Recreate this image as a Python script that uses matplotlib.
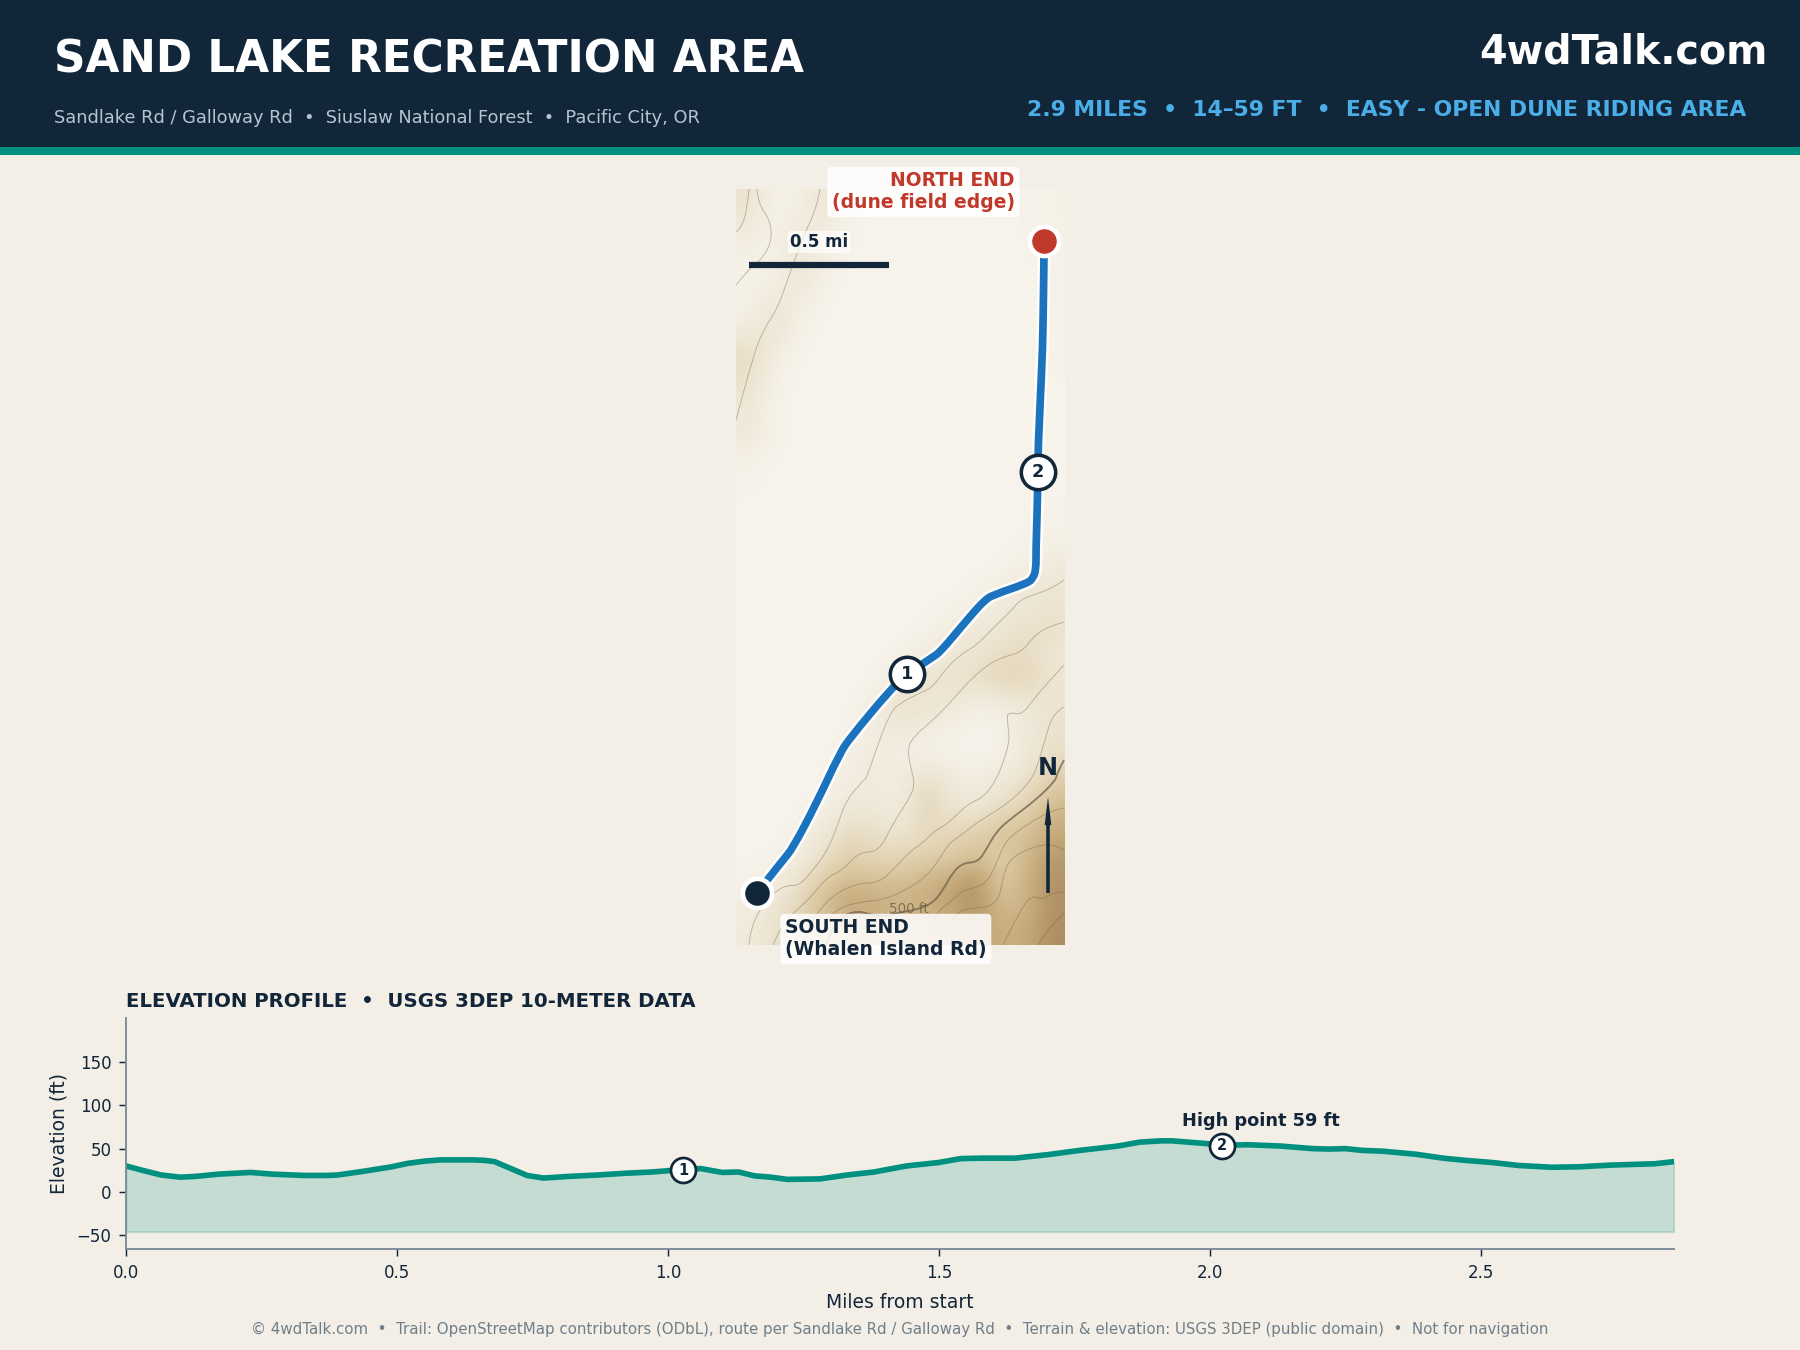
import numpy as np
import matplotlib
matplotlib.use("Agg")
import matplotlib.pyplot as plt
from matplotlib.colors import LinearSegmentedColormap
from matplotlib.patches import PathPatch, Rectangle
from matplotlib.path import Path

W, H = 1800, 1350
NAVY = "#12263a"
TEAL = "#00907f"
BG = "#f3eee6"
ROUTE_BLUE = "#1b72bd"
RED = "#c0392b"
SKY = "#4aaee8"

# Elevation profile
miles = [0.0, 0.03, 0.065, 0.1, 0.13, 0.17, 0.23, 0.27, 0.33, 0.37, 0.39, 0.44, 0.49, 0.52, 0.55,
         0.58, 0.64, 0.66, 0.68, 0.71, 0.74, 0.77, 0.82, 0.87, 0.92, 0.97, 1.03, 1.06, 1.10, 1.13,
         1.16, 1.19, 1.22, 1.28, 1.33, 1.38, 1.44, 1.50, 1.54, 1.58, 1.64, 1.70, 1.76, 1.83, 1.87,
         1.91, 1.93, 1.99, 2.03, 2.07, 2.13, 2.19, 2.22, 2.25, 2.28, 2.32, 2.38, 2.43, 2.47, 2.52,
         2.57, 2.63, 2.68, 2.74, 2.82, 2.856]
elev_ft = [30, 25, 19.5, 17, 18, 20.5, 22.5, 20.5, 19, 19, 19.5, 24, 29, 33, 35.5,
           37, 37, 36.5, 35, 27, 19, 16, 18, 19.5, 21.5, 23, 26, 27, 22.5, 23,
           18.5, 17, 14.5, 15, 19.5, 23, 30, 34, 38.5, 39, 39, 43, 48, 53, 57.5,
           59, 59, 56, 54, 54.5, 53, 50, 49.5, 50, 48, 47, 43.5, 39, 36.5, 34,
           30.5, 28.5, 29, 31, 32.5, 35]
wp_miles = [1.028, 2.022]
wp_elev = [25, 53.6]
wp_names = ["1", "2"]
elev_floor = -46
x_ticks = [0.0, 0.5, 1.0, 1.5, 2.0, 2.5]
y_ticks = [-50, 0, 50, 100, 150]

# Route on the map, in map pixels from the top left corner of the panel
route_x = [21, 47, 57, 81, 104, 114, 154, 171, 197, 204, 221, 237, 249, 257, 292, 297, 300, 300, 301, 302, 302, 306, 307, 308, 308]
route_y = [704, 671, 659, 613, 564, 549, 501, 485, 468, 463, 443, 424, 411, 406, 394, 389, 381, 361, 328, 283, 261, 174, 141, 68, 52]
map_wp_x = [171, 302]
map_wp_y = [485, 283]

# Terrain shading, 0 = pale sand, 1 = darkest slope (13 columns, 30 rows)
terrain = [
    [.26, .05, .05, .26, .05, .02, .02, .02, .02, .02, .03, .03, .06],
    [.16, .03, .16, .13, .03, .02, .02, .02, .02, .02, .03, .03, .06],
    [.08, .03, .20, .09, .03, .02, .02, .02, .02, .02, .02, .03, .05],
    [.05, .07, .24, .05, .02, .02, .01, .02, .01, .02, .01, .02, .05],
    [.05, .17, .11, .03, .01, .02, .01, .02, .01, .02, .01, .02, .05],
    [.10, .27, .05, .02, .01, .02, .01, .02, .01, .02, .01, .02, .04],
    [.32, .12, .03, .02, .01, .02, .01, .02, .01, .02, .01, .02, .04],
    [.30, .06, .02, .01, .01, .02, .01, .02, .01, .02, .01, .02, .03],
    [.18, .04, .02, .01, .01, .02, .01, .02, .01, .02, .01, .02, .03],
    [.20, .05, .02, .01, .01, .02, .01, .02, .01, .02, .01, .02, .03],
    [.09, .03, .01, .01, .01, .02, .01, .02, .01, .02, .01, .02, .03],
    [.04, .02, .01, .01, .01, .02, .01, .02, .01, .02, .01, .02, .03],
    [.03, .01, .01, .01, .01, .02, .01, .02, .01, .02, .02, .02, .03],
    [.02, .01, .01, .01, .01, .01, .01, .01, .01, .02, .02, .03, .05],
    [.02, .01, .01, .01, .01, .01, .01, .01, .01, .01, .02, .04, .10],
    [.01, .01, .01, .01, .01, .01, .01, .01, .02, .03, .06, .15, .20],
    [.01, .01, .01, .01, .01, .01, .01, .02, .03, .08, .16, .20, .24],
    [.01, .01, .01, .01, .01, .01, .02, .03, .12, .16, .20, .28, .26],
    [.01, .01, .01, .01, .01, .02, .04, .14, .18, .24, .30, .34, .20],
    [.01, .01, .01, .01, .01, .03, .14, .24, .26, .28, .40, .36, .22],
    [.01, .01, .01, .01, .02, .10, .30, .24, .18, .08, .10, .18, .24],
    [.01, .01, .01, .01, .04, .12, .16, .10, .05, .03, .05, .16, .26],
    [.01, .01, .01, .02, .08, .14, .08, .06, .05, .03, .05, .18, .30],
    [.01, .01, .01, .03, .12, .14, .10, .32, .16, .10, .18, .26, .46],
    [.01, .01, .02, .06, .18, .16, .10, .42, .20, .18, .30, .40, .62],
    [.01, .01, .05, .18, .34, .28, .22, .32, .36, .42, .56, .54, .74],
    [.02, .04, .12, .28, .44, .36, .36, .44, .46, .58, .44, .62, .85],
    [.05, .10, .26, .50, .62, .58, .60, .66, .76, .90, .46, .68, .92],
    [.10, .22, .38, .62, .78, .74, .66, .70, .78, .92, .60, .66, .92],
    [.14, .26, .34, .50, .58, .62, .58, .64, .68, .76, .70, .72, .95],
]

# Contours, map pixels
contour_a_x = [328, 317, 297, 284, 274, 257, 241, 227, 211, 197, 184, 164, 154, 141, 131, 128, 110, 100, 90, 77, 63, 50, 35, 22, 15, 13]
contour_a_y = [391, 399, 406, 411, 423, 439, 456, 464, 478, 498, 504, 514, 524, 558, 588, 591, 611, 641, 664, 681, 697, 696, 706, 723, 741, 756]
contour_b_x = [328, 311, 297, 286, 267, 251, 231, 214, 197, 177, 171, 177, 178, 177, 157, 143, 123, 107, 90, 77, 63, 47, 37]
contour_b_y = [433, 438, 448, 463, 468, 476, 494, 514, 531, 548, 561, 588, 591, 604, 634, 663, 663, 681, 689, 706, 719, 734, 756]
contour_c_x = [328, 314, 297, 286, 272, 271, 274, 267, 260, 248, 230, 213, 197, 187, 173, 160, 143, 123, 100, 83, 73, 68]
contour_c_y = [476, 491, 511, 526, 523, 531, 551, 574, 591, 608, 616, 634, 643, 654, 663, 678, 694, 694, 704, 721, 738, 756]
contour_d_x = [328, 317, 309, 301, 295, 283, 273, 257, 240, 223, 213, 203, 190, 170, 147, 123, 103, 90, 82]
contour_d_y = [518, 524, 551, 578, 591, 604, 613, 624, 634, 648, 654, 671, 688, 701, 711, 713, 719, 731, 756]
index_x = [328, 321, 320, 300, 273, 260, 250, 242, 227, 217, 207, 197, 180, 160, 147, 133, 122, 108, 97, 90]
index_y = [571, 584, 591, 611, 631, 643, 661, 673, 674, 683, 701, 714, 721, 724, 728, 725, 722, 726, 738, 756]
contour_f_x = [328, 317, 293, 270, 263, 253, 240, 227, 213, 200, 195, 187]
contour_f_y = [619, 621, 634, 651, 668, 691, 699, 701, 714, 724, 741, 756]
contour_g_x = [328, 317, 293, 273, 267, 263, 250, 230, 217, 200]
contour_g_y = [661, 654, 659, 671, 688, 711, 719, 719, 728, 756]
contour_h_x = [328, 317, 307, 295, 283, 267]
contour_h_y = [703, 703, 711, 706, 724, 756]
contour_i_x = [328, 317, 302]
contour_i_y = [724, 734, 756]
contour_nw1_x = [0, 7, 12, 13]
contour_nw1_y = [43, 38, 11, 0]
contour_nw2_x = [21, 22, 34, 36, 27, 14, 0]
contour_nw2_y = [0, 14, 31, 51, 69, 79, 96]
contour_nw3_x = [84, 81, 67, 54, 41, 27, 17, 0]
contour_nw3_y = [0, 18, 48, 84, 121, 141, 168, 231]


def smooth_path(xs, ys):
    # quadratic curves through the midpoints so the lines do not look faceted
    pts = np.column_stack([xs, ys]).astype(float)
    verts = [pts[0]]
    codes = [Path.MOVETO]
    for i in range(1, len(pts) - 1):
        verts += [pts[i], (pts[i] + pts[i + 1]) / 2]
        codes += [Path.CURVE3, Path.CURVE3]
    verts.append(pts[-1])
    codes.append(Path.LINETO)
    return Path(verts, codes)


fig = plt.figure(figsize=(W / 150, H / 150), dpi=150, facecolor=BG)

# Header band
fig.add_artist(Rectangle((0, 1 - 147 / H), 1, 147 / H, transform=fig.transFigure, color=NAVY, lw=0))
fig.add_artist(Rectangle((0, 1 - 155 / H), 1, 8 / H, transform=fig.transFigure, color=TEAL, lw=0))
fig.text(54 / W, 1 - 72.5 / H, "SAND LAKE RECREATION AREA", color="white", fontsize=21, fontweight="bold", va="baseline")
fig.text(54 / W, 1 - 123 / H, "Sandlake Rd / Galloway Rd  •  Siuslaw National Forest  •  Pacific City, OR",
         color="#b6c4cf", fontsize=8.55, va="baseline")
fig.text(1768 / W, 1 - 63 / H, "4wdTalk.com", color="white", fontsize=19, fontweight="bold", ha="right", va="baseline")
fig.text(1746 / W, 1 - 116 / H, "2.9 MILES  •  14–59 FT  •  EASY - OPEN DUNE RIDING AREA",
         color=SKY, fontsize=10.5, fontweight="bold", ha="right", va="baseline")

# Map panel
ax_map = fig.add_axes([736 / W, 1 - 945 / H, 329 / W, 756 / H])
sand = LinearSegmentedColormap.from_list("sand", ["#f8f5ee", "#ece3cf", "#dcc9a2", "#c4a878", "#a5865a"])
ax_map.imshow(terrain, cmap=sand, vmin=0, vmax=1, extent=(0, 329, 756, 0), interpolation="bicubic", aspect="auto")
thin_lines = [(contour_a_x, contour_a_y), (contour_b_x, contour_b_y), (contour_c_x, contour_c_y),
              (contour_d_x, contour_d_y), (contour_f_x, contour_f_y), (contour_g_x, contour_g_y),
              (contour_h_x, contour_h_y), (contour_i_x, contour_i_y), (contour_nw1_x, contour_nw1_y),
              (contour_nw2_x, contour_nw2_y), (contour_nw3_x, contour_nw3_y)]
for cx, cy in thin_lines:
    ax_map.add_patch(PathPatch(smooth_path(cx, cy), fc="none", ec="#6f6048", lw=0.45, alpha=0.4))
ax_map.add_patch(PathPatch(smooth_path(index_x, index_y), fc="none", ec="#6f6048", lw=0.9, alpha=0.75))
ax_map.text(173, 720, "500 ft", color="#6f6048", fontsize=6.5, alpha=0.8, ha="center", va="center")

route_path = smooth_path(route_x, route_y)
ax_map.add_patch(PathPatch(route_path, fc="none", ec="white", lw=6.2, alpha=0.9, capstyle="round", joinstyle="round"))
ax_map.add_patch(PathPatch(route_path, fc="none", ec=ROUTE_BLUE, lw=3.7, capstyle="round", joinstyle="round"))

ax_map.plot(route_x[0], route_y[0], "o", ms=14, mfc=NAVY, mec="white", mew=2.2, zorder=6)
ax_map.plot(route_x[-1], route_y[-1], "o", ms=14, mfc=RED, mec="white", mew=2.2, zorder=6)
ax_map.plot(map_wp_x, map_wp_y, "o", ms=16.5, mfc="white", mec=NAVY, mew=1.7, zorder=6)
for mx, my, name in zip(map_wp_x, map_wp_y, wp_names):
    ax_map.text(mx, my, name, color=NAVY, fontsize=8.5, fontweight="bold", ha="center", va="center", zorder=7)

label_box = dict(boxstyle="round,pad=0.25", fc="white", ec="none", alpha=0.85)
ax_map.text(279, 3, "NORTH END\n(dune field edge)", color=RED, fontsize=9, fontweight="bold", ha="right",
            va="center", multialignment="right", bbox=label_box, zorder=8)
ax_map.text(49, 750, "SOUTH END\n(Whalen Island Rd)", color=NAVY, fontsize=9, fontweight="bold", ha="left",
            va="center", multialignment="left", bbox=label_box, zorder=8)

# Scale bar and north arrow
ax_map.plot([13, 153], [76, 76], color=NAVY, lw=3, solid_capstyle="butt", zorder=5)
ax_map.text(83, 53, "0.5 mi", color=NAVY, fontsize=8, fontweight="bold", ha="center", va="center",
            bbox=dict(boxstyle="round,pad=0.12", fc="white", ec="none", alpha=0.7), zorder=5)
ax_map.plot([312, 312], [704, 630], color=NAVY, lw=1.7, solid_capstyle="butt", zorder=5)
# narrow arrowhead: no stroke, otherwise matplotlib pulls the tip back
ax_map.annotate("", xy=(312, 608), xytext=(312, 640),
                arrowprops=dict(arrowstyle="-|>,head_length=1.35,head_width=0.16", color=NAVY, lw=0,
                                shrinkA=0, shrinkB=0, mutation_scale=10), zorder=5)
ax_map.text(312, 579, "N", color=NAVY, fontsize=11.5, fontweight="bold", ha="center", va="center", zorder=5)
ax_map.set_xlim(0, 329)
ax_map.set_ylim(756, 0)
ax_map.axis("off")

# Elevation profile
ax = fig.add_axes([126 / W, 1 - 1249 / H, 1548 / W, 231 / H], facecolor="none")
ax.fill_between(miles, elev_ft, elev_floor, color=TEAL, alpha=0.19, lw=1)
ax.plot(miles, elev_ft, color=TEAL, lw=2.7, solid_joinstyle="round")
ax.plot(wp_miles, wp_elev, "o", ms=12, mfc="white", mec=NAVY, mew=1.3, zorder=5, clip_on=False)
for wx, wy, name in zip(wp_miles, wp_elev, wp_names):
    ax.text(wx, wy, name, color=NAVY, fontsize=7, fontweight="bold", ha="center", va="center", zorder=6)
ax.annotate("High point 59 ft", xy=(2.022, 53.6), xytext=(2.093, 76.5), color=NAVY, fontsize=8.5,
            fontweight="bold", ha="center", va="baseline")
ax.set_xlim(0, 2.856)
ax.set_ylim(-66, 201)
ax.set_xticks(x_ticks)
ax.set_yticks(y_ticks)
ax.tick_params(labelsize=8, colors=NAVY, length=3.5, width=0.7)
for side in ["top", "right"]:
    ax.spines[side].set_visible(False)
for side in ["left", "bottom"]:
    ax.spines[side].set_color("#7a8a96")
    ax.spines[side].set_linewidth(0.9)
ax.set_xlabel("Miles from start", color=NAVY, fontsize=9, labelpad=5.5)
ax.set_ylabel("Elevation (ft)", color=NAVY, fontsize=9, labelpad=4)
fig.text(126 / W, 1 - 1007 / H, "ELEVATION PROFILE  •  USGS 3DEP 10-METER DATA", color=NAVY, fontsize=9.5,
         fontweight="bold", va="baseline")

fig.text(0.5, 1 - 1329 / H,
         "© 4wdTalk.com  •  Trail: OpenStreetMap contributors (ODbL), route per Sandlake Rd / Galloway Rd"
         "  •  Terrain & elevation: USGS 3DEP (public domain)  •  Not for navigation",
         color="#6f7f8a", fontsize=7.2, ha="center", va="center")

fig.savefig("out.png", dpi=150, facecolor=BG)
plt.close(fig)
